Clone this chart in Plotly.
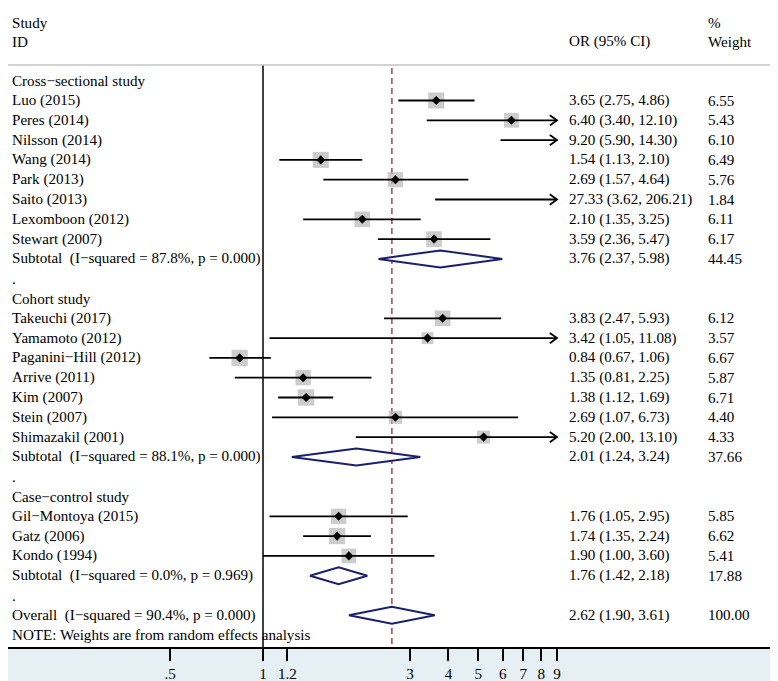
import numpy as np
import plotly.graph_objects as go

FONT = "Liberation Serif, Times New Roman, serif"
FS = 15.1

# ---- data -------------------------------------------------------------
cross_names = ["Luo (2015)", "Peres (2014)", "Nilsson (2014)", "Wang (2014)",
               "Park (2013)", "Saito (2013)", "Lexomboon (2012)", "Stewart (2007)"]
cross_or = [3.65, 6.40, 9.20, 1.54, 2.69, 27.33, 2.10, 3.59]
cross_lo = [2.75, 3.40, 5.90, 1.13, 1.57, 3.62, 1.35, 2.36]
cross_hi = [4.86, 12.10, 14.30, 2.10, 4.64, 206.21, 3.25, 5.47]
cross_wt = [6.55, 5.43, 6.10, 6.49, 5.76, 1.84, 6.11, 6.17]

cohort_names = ["Takeuchi (2017)", "Yamamoto (2012)", "Paganini−Hill (2012)", "Arrive (2011)",
                "Kim (2007)", "Stein (2007)", "Shimazakil (2001)"]
cohort_or = [3.83, 3.42, 0.84, 1.35, 1.38, 2.69, 5.20]
cohort_lo = [2.47, 1.05, 0.67, 0.81, 1.12, 1.07, 2.00]
cohort_hi = [5.93, 11.08, 1.06, 2.25, 1.69, 6.73, 13.10]
cohort_wt = [6.12, 3.57, 6.67, 5.87, 6.71, 4.40, 4.33]

case_names = ["Gil−Montoya (2015)", "Gatz (2006)", "Kondo (1994)"]
case_or = [1.76, 1.74, 1.90]
case_lo = [1.05, 1.35, 1.00]
case_hi = [2.95, 2.24, 3.60]
case_wt = [5.85, 6.62, 5.41]

group_titles = ["Cross−sectional study", "Cohort study", "Case−control study"]
sub_i2 = [87.8, 88.1, 0.0]
sub_p = [0.000, 0.000, 0.969]
sub_or = [3.76, 2.01, 1.76]
sub_lo = [2.37, 1.24, 1.42]
sub_hi = [5.98, 3.24, 2.18]
sub_wt = [44.45, 37.66, 17.88]

overall_or, overall_lo, overall_hi, overall_wt = 2.62, 1.90, 3.61, 100.00
overall_i2, overall_p = 90.4, 0.000

tick_vals = [0.5, 1, 1.2, 3, 4, 5, 6, 7, 8, 9]
tick_text = [".5", "1", "1.2", "3", "4", "5", "6", "7", "8", "9"]
clip_hi = 9

groups = [
    (cross_names, cross_or, cross_lo, cross_hi, cross_wt),
    (cohort_names, cohort_or, cohort_lo, cohort_hi, cohort_wt),
    (case_names, case_or, case_lo, case_hi, case_wt),
]

# ---- build rows -------------------------------------------------------
rows = []
for g, (names, ors, los, his, wts) in enumerate(groups):
    rows.append(dict(kind="head", label=group_titles[g]))
    for n, o, l, h, w in zip(names, ors, los, his, wts):
        rows.append(dict(kind="study", label=n, or_=o, lo=l, hi=h, wt=w))
    rows.append(dict(kind="pool",
                     label=f"Subtotal\u00a0 (I−squared = {sub_i2[g]:.1f}%, p = {sub_p[g]:.3f})",
                     or_=sub_or[g], lo=sub_lo[g], hi=sub_hi[g], wt=sub_wt[g]))
    rows.append(dict(kind="blank", label="."))
rows.append(dict(kind="pool",
                 label=f"Overall\u00a0 (I−squared = {overall_i2:.1f}%, p = {overall_p:.3f})",
                 or_=overall_or, lo=overall_lo, hi=overall_hi, wt=overall_wt))
rows.append(dict(kind="note", label="NOTE: Weights are from random effects analysis"))
for i, r in enumerate(rows):
    r["y"] = i

# page body has an 8px margin, so the figure is a bit smaller than the window
OFF = 8
W, H = 778 - OFF, 681 - OFF
fig = go.Figure()

# reference lines
fig.add_trace(go.Scatter(x=[1, 1], y=[-0.79, 40], mode="lines",
                         line=dict(color="black", width=1.5), hoverinfo="skip"))
fig.add_trace(go.Scatter(x=[overall_or, overall_or], y=[-0.64, 40], mode="lines",
                         line=dict(color="#a8414d", width=1.5, dash="6px,4px"),
                         hoverinfo="skip"))

studies = [r for r in rows if r["kind"] == "study"]
shown = [r for r in studies if r["or_"] <= clip_hi]

# weight squares
fig.add_trace(go.Scatter(
    x=[r["or_"] for r in shown], y=[r["y"] for r in shown], mode="markers",
    marker=dict(symbol="square", color="#b6b6b6",
                size=[6.3 * np.sqrt(r["wt"]) for r in shown], line=dict(width=0)),
    hoverinfo="skip"))

# confidence intervals (+ arrows when clipped)
cx, cy, ax_, ay_ = [], [], [], []
for r in studies:
    cx += [r["lo"], min(r["hi"], clip_hi), None]
    cy += [r["y"], r["y"], None]
    if r["hi"] > clip_hi:
        back = clip_hi / 1.055
        ax_ += [back, clip_hi, back, None]
        ay_ += [r["y"] - 0.26, r["y"], r["y"] + 0.26, None]
fig.add_trace(go.Scatter(x=cx, y=cy, mode="lines",
                         line=dict(color="black", width=1.8), hoverinfo="skip"))
fig.add_trace(go.Scatter(x=ax_, y=ay_, mode="lines",
                         line=dict(color="black", width=1.8), hoverinfo="skip"))

# point estimates
fig.add_trace(go.Scatter(
    x=[r["or_"] for r in shown], y=[r["y"] for r in shown], mode="markers",
    marker=dict(symbol="diamond", color="black", size=7), hoverinfo="skip"))

# pooled diamonds
for r in rows:
    if r["kind"] == "pool":
        h = 0.43
        fig.add_trace(go.Scatter(
            x=[r["lo"], r["or_"], r["hi"], r["or_"], r["lo"]],
            y=[r["y"], r["y"] - h, r["y"], r["y"] + h, r["y"]],
            mode="lines", fill="toself", fillcolor="white",
            line=dict(color="#1c1f6e", width=2), hoverinfo="skip"))

# ---- text columns -----------------------------------------------------
def txt(x_px, y, s):
    fig.add_annotation(x=(x_px - OFF) / W, y=y, xref="paper", yref="y", text=s,
                       showarrow=False, xanchor="left", yanchor="middle",
                       font=dict(family=FONT, size=FS, color="black"))

txt(10, -2.93, "Study")
txt(10, -1.97, "ID")
txt(567, -1.97, "OR (95% CI)")
txt(706, -2.93, "%")
txt(706, -1.97, "Weight")

for r in rows:
    txt(10, r["y"], r["label"])
    if r["kind"] in ("study", "pool"):
        txt(567, r["y"], f"{r['or_']:.2f} ({r['lo']:.2f}, {r['hi']:.2f})")
        txt(706, r["y"], f"{r['wt']:.2f}")

# header separator
fig.add_shape(type="line", xref="paper", yref="y", x0=0, x1=1, y0=-0.79, y1=-0.79,
              line=dict(color="#c4c4c4", width=1.5))

px_per_dec = 308.1
x_one = 263 - OFF
row0, row_h = 80.7 - OFF, 19.8
plot_bottom = 647 - OFF
fig.update_layout(
    width=W, height=H,
    margin=dict(l=0, r=0, t=0, b=H - plot_bottom),
    paper_bgcolor="#e6eff3",
    plot_bgcolor="white",
    showlegend=False,
    xaxis=dict(type="log", range=[-x_one / px_per_dec, (W - x_one) / px_per_dec],
               tickvals=tick_vals, ticktext=tick_text, ticks="outside", ticklen=12,
               tickwidth=1.5, tickcolor="black", showline=True, linecolor="black",
               linewidth=1.5, showgrid=False, zeroline=False,
               tickfont=dict(family=FONT, size=FS, color="black")),
    yaxis=dict(range=[(plot_bottom - row0) / row_h, -row0 / row_h],
               visible=False, showgrid=False, zeroline=False),
)

fig.write_html("out.html")
